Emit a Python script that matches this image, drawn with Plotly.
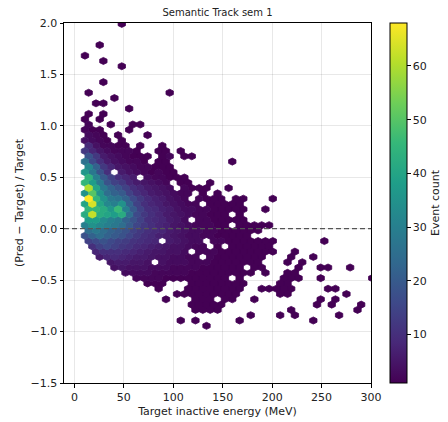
import plotly.graph_objects as go
from plotly.colors import sample_colorscale

# Hexbin counts, one entry per lattice row (row 0 is the lowest row).
# Each row is a list of (first column, [counts...]); a 0 marks an empty cell.
HEX_ROWS = {
    57: [(6, [1])],
    53: [(3, [1])],
    51: [(1, [1])],
    50: [(3, [1])],
    49: [(6, [1])],
    46: [(3, [1])],
    44: [(1, [1]), (12, [1])],
    43: [(5, [1])],
    42: [(2, [1, 1])],
    41: [(7, [1])],
    40: [(1, [1, 0, 1])],
    39: [(1, [1, 0, 1])],
    38: [(1, [2, 0, 0, 1, 0, 0, 1, 1])],
    37: [(1, [2, 1, 1]), (7, [1])],
    36: [(1, [3, 2, 1, 0, 1]), (9, [1])],
    35: [(1, [4, 3, 2, 1, 0, 1])],
    34: [(1, [9, 4, 2, 2, 1, 1, 0, 1]), (11, [1])],
    33: [(1, [12, 8, 5, 3, 2, 2, 2, 1]), (11, [1, 1, 0, 1])],
    32: [(1, [18, 12, 6, 4, 3, 2, 1, 1, 1]), (11, [1, 2, 0, 1, 1])],
    31: [(1, [26, 16, 10, 6, 4, 3, 2, 2, 1]), (11, [1, 1]), (21, [1])],
    30: [(1, [32, 22, 12, 8, 5, 4, 3, 2, 2, 1, 1, 1])],
    29: [(1, [36, 28, 18, 10, 0, 6, 4, 3, 2, 1, 2, 1, 1])],
    28: [(1, [44, 30, 20, 14, 10, 8, 6, 0, 3, 2, 2, 1, 1, 1])],
    27: [(1, [45, 38, 28, 18, 14, 12, 8, 6, 5, 4, 3, 2, 0, 1, 1]), (18, [1])],
    26: [(1, [60, 40, 28, 22, 18, 14, 10, 8, 6, 5, 4, 3, 0, 2, 1, 1, 1]), (20, [1])],
    25: [(1, [35, 50, 35, 25, 22, 20, 14, 10, 8, 6, 5, 4, 3, 2, 2, 0, 1]), (19, [1])],
    24: [(1, [68, 45, 35, 28, 26, 22, 16, 12, 9, 7, 6, 4, 3, 2, 0, 2, 1, 1, 1]),
         (21, [1, 1]), (26, [1])],
    23: [(1, [40, 64, 40, 32, 30, 35, 22, 14, 10, 8, 7, 5, 4, 3, 2, 2, 0, 1, 1, 1, 1, 1])],
    22: [(1, [45, 45, 42, 36, 46, 30, 20, 14, 10, 9, 7, 6, 4, 3, 3, 2, 2, 1, 1, 1, 1, 1]),
         (25, [1])],
    21: [(1, [42, 62, 42, 40, 38, 42, 25, 16, 12, 10, 8, 6, 5, 4, 3, 2, 2, 1, 1, 1, 0, 1])],
    20: [(1, [38, 38, 33, 30, 28, 22, 18, 14, 10, 9, 8, 6, 5, 3, 0, 2, 2, 1, 1, 1, 1, 1])],
    19: [(1, [30, 35, 32, 30, 28, 25, 20, 15, 12, 10, 8, 7, 5, 4, 3, 2, 2, 2, 1, 1, 0,
              1, 1, 1, 1, 1])],
    18: [(1, [25, 28, 25, 22, 20, 18, 14, 12, 10, 9, 8, 6, 5, 4, 3, 3, 2, 2, 1, 1, 1,
              1, 1, 1])],
    17: [(1, [18, 22, 25, 22, 20, 18, 15, 12, 10, 9, 7, 6, 5, 4, 3, 3, 2, 2, 1, 1, 1,
              1, 1])],
    16: [(1, [14, 16, 18, 16, 14, 13, 11, 10, 9, 8, 0, 6, 5, 4, 3, 3, 0, 2, 2, 1, 1, 1,
              1, 1, 1, 1]), (33, [1])],
    15: [(2, [10, 14, 16, 14, 12, 11, 9, 8, 7, 6, 5, 4, 4, 3, 2, 2, 0, 1, 0, 1, 1, 1,
              1, 1, 1])],
    14: [(2, [8, 10, 10, 10, 9, 8, 7, 6, 5, 5, 4, 4, 3, 0, 2, 2, 2, 1, 1, 1, 1, 1, 1,
              1, 1]), (29, [1])],
    13: [(3, [6, 8, 9, 8, 7, 6, 6, 5, 4, 4, 3, 3, 2, 2, 0, 2, 1, 1, 1, 1, 1, 1, 1]),
         (29, [1]), (32, [1])],
    12: [(4, [5, 6, 6, 5, 5, 4, 0, 4, 3, 3, 3, 2, 2, 2, 1, 1, 1, 1, 1, 1, 1]),
         (28, [1]), (30, [1])],
    11: [(5, [4, 5, 4, 4, 4, 3, 3, 3, 2, 2, 2, 2, 1, 1, 1, 1, 1, 1, 0, 1, 1]),
         (30, [1]), (33, [1, 1]), (37, [1])],
    10: [(6, [3, 3, 3, 3, 2, 2, 2, 2, 2, 1, 1, 1, 1, 1, 1, 1, 1, 1, 0, 1]), (28, [1, 1])],
    9: [(8, [2, 2, 2, 2, 1, 1, 1, 1, 1, 1, 1, 1, 1, 0, 1]), (28, [1, 1, 1]), (33, [1]),
        (40, [1])],
    8: [(9, [1, 1, 1]), (15, [1, 1, 1, 1, 1, 1, 1, 1]), (27, [1, 1])],
    7: [(11, [1]), (15, [1, 1, 1, 1, 1, 1, 1, 1]), (25, [1, 1, 1, 1, 1]), (34, [1, 1])],
    6: [(13, [1, 1, 1, 1, 1, 1, 1, 1, 1]), (27, [1, 1]), (36, [1])],
    5: [(12, [1]), (16, [1, 1, 1, 0, 1, 1]), (24, [1]), (33, [1]), (35, [1])],
    4: [(15, [1, 1, 1, 1, 1]), (32, [1]), (34, [1]), (38, [1])],
    3: [(16, [1, 1, 1, 1]), (29, [1]), (38, [1])],
    2: [(23, [1]), (27, [1]), (29, [1]), (35, [1])],
    1: [(14, [1]), (16, [1]), (22, [1]), (32, [1])],
    0: [(17, [1])],
}

X_TICKS = [0, 50, 100, 150, 200, 250, 300]
Y_TICKS = [-1.5, -1.0, -0.5, 0.0, 0.5, 1.0, 1.5, 2.0]
CBAR_TICKS = [10, 20, 30, 40, 50, 60]

# hexagonal bin lattice (x in MeV, y in relative error)
HEX_SX = 7.45        # column spacing
HEX_X0 = 3.25        # x of column 0 on odd rows
HEX_DY = 0.0515      # row spacing (half the lattice period)
HEX_Y0 = -0.944      # y of row 0

sy = 2 * HEX_DY
hex_shape = [(0.5 * HEX_SX, -sy / 6), (0.5 * HEX_SX, sy / 6), (0.0, sy / 3),
             (-0.5 * HEX_SX, sy / 6), (-0.5 * HEX_SX, -sy / 6), (0.0, -sy / 3)]

cx, cy, cnt = [], [], []
for row, segments in HEX_ROWS.items():
    for start, values in segments:
        for k, v in enumerate(values):
            if v <= 0:
                continue
            col = start + k
            x = HEX_X0 + HEX_SX * col + (HEX_SX / 2 if row % 2 == 0 else 0.0)
            y = HEX_Y0 + HEX_DY * row
            cx.append(x)
            cy.append(y)
            cnt.append(v)

cmin, cmax = min(cnt), max(cnt)

fig = go.Figure()

# one filled trace per count value, each holding all hexagons with that count
for level in sorted(set(cnt)):
    px, py = [], []
    for x, y, v in zip(cx, cy, cnt):
        if v != level:
            continue
        for dx, dy in hex_shape + [hex_shape[0]]:
            px.append(x + dx)
            py.append(y + dy)
        px.append(None)
        py.append(None)
    color = sample_colorscale('Viridis', [(level - cmin) / (cmax - cmin)])[0]
    fig.add_trace(go.Scatter(
        x=px, y=py, mode='lines', fill='toself', fillcolor=color,
        line=dict(color=color, width=0.8), hoverinfo='skip', showlegend=False,
    ))

# bin centres carry the colour scale
fig.add_trace(go.Scatter(
    x=cx, y=cy, mode='markers', showlegend=False,
    marker=dict(size=6, opacity=0, color=cnt, colorscale='Viridis',
                cmin=cmin, cmax=cmax, showscale=True,
                colorbar=dict(
                    thickness=17, thicknessmode='pixels',
                    len=1, lenmode='fraction', y=0.5, yanchor='middle',
                    x=1.062, xanchor='left', xpad=0, ypad=0,
                    outlinewidth=1, outlinecolor='black',
                    ticks='outside', ticklen=3.5, tickcolor='black', tickwidth=1,
                    tickvals=CBAR_TICKS,
                    tickfont=dict(size=11, color='#222'),
                    title=dict(text='Event count', side='right',
                               font=dict(size=11, color='#222')),
                )),
    hovertemplate='E=%{x:.1f} MeV<br>err=%{y:.2f}<br>count=%{marker.color}<extra></extra>',
))

# reference line at zero relative error
fig.add_shape(type='line', xref='paper', x0=0, x1=1, yref='y', y0=0, y1=0,
              line=dict(color='#555555', width=1.2, dash='5px,3px'), layer='above')

axis_common = dict(
    showline=True, mirror=True, linecolor='black', linewidth=1,
    ticks='outside', ticklen=3.5, tickcolor='black', tickwidth=1,
    showgrid=True, gridcolor='rgba(0,0,0,0.09)', gridwidth=0.8,
    zeroline=False, tickfont=dict(size=11, color='#222'), automargin=False,
)

fig.update_xaxes(
    range=[-10.5, 300], tickvals=X_TICKS, ticktext=[str(t) for t in X_TICKS],
    title=dict(text='Target inactive energy (MeV)', standoff=4,
               font=dict(size=11, color='#222')),
    **axis_common,
)
fig.update_yaxes(
    range=[-1.5, 2.0], tickvals=Y_TICKS,
    ticktext=[f'{t:.1f}'.replace('-', '\u2212') for t in Y_TICKS],
    title=dict(text='(Pred \u2212 Target) / Target', standoff=4,
               font=dict(size=11, color='#222')),
    **axis_common,
)

fig.update_layout(
    width=448, height=422,
    margin=dict(l=64, r=77, t=23, b=39, autoexpand=False),
    plot_bgcolor='white', paper_bgcolor='white',
    font=dict(family='DejaVu Sans', size=11, color='#222'),
    title=dict(text='Semantic Track sem 1', x=0.5, xref='paper', xanchor='center',
               y=1 - 12 / 422, yref='container', yanchor='middle',
               font=dict(size=10, color='#222')),
    showlegend=False,
)

fig.write_html('out.html')
